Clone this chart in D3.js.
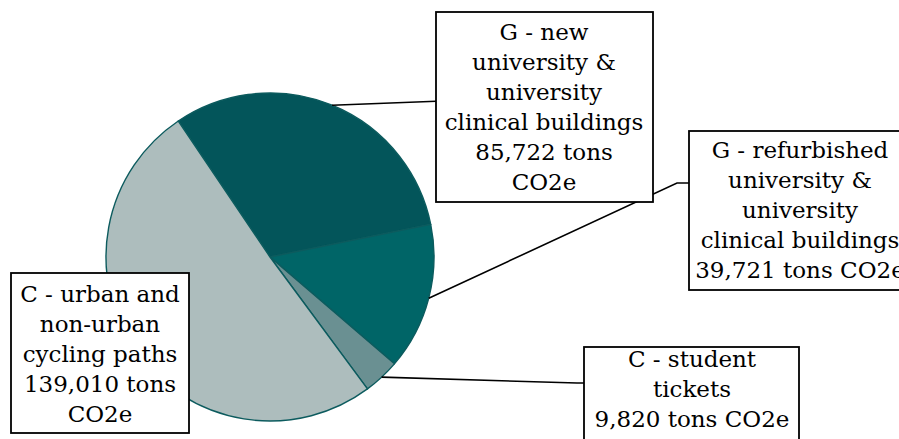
<!DOCTYPE html>
<html>
<head>
<meta charset="utf-8">
<script src="https://cdn.jsdelivr.net/npm/d3@7"></script>
<style>
  html, body { margin: 0; padding: 0; background: #fff; overflow: hidden; }
  svg { display: block; }
</style>
</head>
<body>
<svg id="chart" width="899" height="439"></svg>
<script>
// Emissions by measure (tons CO2e)
const categories = [
  "G - new university & university clinical buildings",
  "G - refurbished university & university clinical buildings",
  "C - student tickets",
  "C - urban and non-urban cycling paths"
];
const values = [85722, 39721, 9820, 139010];
const labelLines = [
  ["G - new", "university &", "university", "clinical buildings", "85,722 tons", "CO2e"],
  ["G - refurbished", "university &", "university", "clinical buildings", "39,721 tons CO2e"],
  ["C - student", "tickets", "9,820 tons CO2e"],
  ["C - urban and", "non-urban", "cycling paths", "139,010 tons", "CO2e"]
];
const colors = ["#03555a", "#006567", "#6a9092", "#adbdbd"];

// Layout
const W = 899, H = 439;
const cx = 270, cy = 257, R = 164;
const startDeg = -34;
const fontSize = 23;
const lineH = 30;
// label boxes: corners, first baseline, text center x, leader style
const boxes = [
  { x0: 436, y0: 12, x1: 653, y1: 202, base: 40, tx: 544, leader: "straight" },
  { x0: 689, y0: 131, x1: 912, y1: 290, base: 158, tx: 800, leader: "elbow", elbowX: 677, elbowY: 183 },
  { x0: 584, y0: 347, x1: 799, y1: 450, base: 367, tx: 692, leader: "elbow", elbowX: 577, elbowY: 383 },
  { x0: 11, y0: 273, x1: 189, y1: 433, base: 302, tx: 100, leader: null }
];

const svg = d3.select("#chart");
const data = categories.map((c, i) => ({ name: c, value: values[i], i }));

const pie = d3.pie()
  .value(d => d.value)
  .sort(null)
  .startAngle(startDeg * Math.PI / 180)
  .endAngle(startDeg * Math.PI / 180 + 2 * Math.PI);
const arcs = pie(data);

const arc = d3.arc().innerRadius(0).outerRadius(R);
const rim = d3.arc().innerRadius(R).outerRadius(R);

const g = svg.append("g").attr("transform", `translate(${cx},${cy})`);
g.selectAll("path.slice")
  .data(arcs)
  .join("path")
  .attr("class", "slice")
  .attr("d", arc)
  .attr("fill", d => colors[d.data.i])
  .attr("stroke", "#0c5b5e")
  .attr("stroke-width", 1.4)
  .attr("stroke-linejoin", "round");

// Leader lines from slice midpoints on the rim to the label boxes
const leaders = svg.append("g");
arcs.forEach(a => {
  const b = boxes[a.data.i];
  if (!b.leader) return;
  const [px, py] = rim.centroid(a);
  const sx = cx + px, sy = cy + py;
  const pts = b.leader === "straight"
    ? [[sx, sy], [b.x0, sy - 4]]
    : [[sx, sy], [b.elbowX, b.elbowY], [b.x0, b.elbowY]];
  leaders.append("path")
    .attr("d", d3.line()(pts))
    .attr("fill", "none")
    .attr("stroke", "#000")
    .attr("stroke-width", 1.6);
});

// Label boxes
const labels = svg.append("g");
boxes.forEach((b, i) => {
  const lg = labels.append("g");
  lg.append("rect")
    .attr("x", b.x0).attr("y", b.y0)
    .attr("width", b.x1 - b.x0).attr("height", b.y1 - b.y0)
    .attr("fill", "#fff")
    .attr("stroke", "#000")
    .attr("stroke-width", 1.8);
  lg.selectAll("text")
    .data(labelLines[i])
    .join("text")
    .attr("x", b.tx)
    .attr("y", (d, k) => b.base + k * lineH)
    .attr("text-anchor", "middle")
    .attr("font-family", "'DejaVu Serif', Georgia, serif")
    .attr("font-size", fontSize)
    .attr("fill", "#000")
    .text(d => d);
});
</script>
</body>
</html>
